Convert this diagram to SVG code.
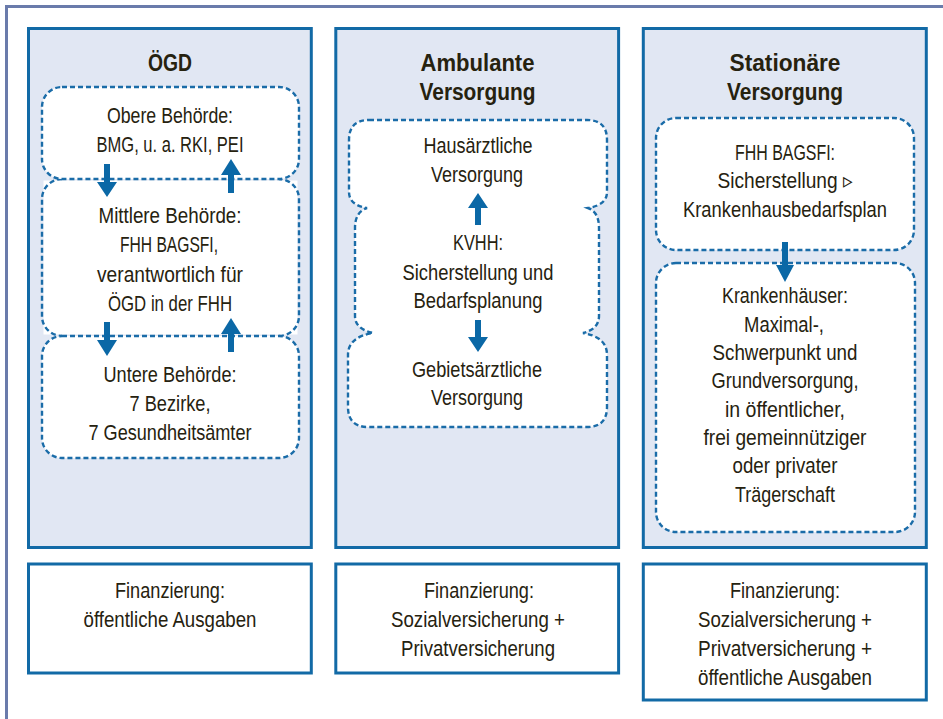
<svg xmlns="http://www.w3.org/2000/svg" width="943" height="719" viewBox="0 0 943 719">
<style>
.col{fill:#e1e7f3;stroke:#126aa6;stroke-width:3}
.fin{fill:#ffffff;stroke:#126aa6;stroke-width:3}
.dash{fill:#ffffff;stroke:#1a6ca8;stroke-width:2.4;stroke-dasharray:5 3}
.dashl{fill:none;stroke:#1a6ca8;stroke-width:2.4;stroke-dasharray:5 3}
text{font-family:"Liberation Sans",Arial,sans-serif;font-size:22px;fill:#26220f;text-anchor:middle;}
.t{font-weight:bold;font-size:23.5px}
.arr{fill:#0b68a6}
</style>
<path d="M6.5,719 V6.5 H943" fill="none" stroke="#6a7bab" stroke-width="3"/>

<g id="col-oegd">
<rect class="col" x="28.5" y="28.5" width="282.8" height="519"/>
<text class="t" x="170" y="71" textLength="44" lengthAdjust="spacingAndGlyphs">ÖGD</text>
</g>
<g id="col-ambulant">
<rect class="col" x="335.8" y="28.5" width="282.8" height="519"/>
<text class="t" x="477.5" y="71" textLength="114" lengthAdjust="spacingAndGlyphs">Ambulante</text>
<text class="t" x="477.5" y="100" textLength="116" lengthAdjust="spacingAndGlyphs">Versorgung</text>
</g>
<g id="col-stationaer">
<rect class="col" x="643.3" y="28.5" width="283" height="519"/>
<text class="t" x="785" y="71" textLength="111" lengthAdjust="spacingAndGlyphs">Stationäre</text>
<text class="t" x="785" y="100" textLength="116" lengthAdjust="spacingAndGlyphs">Versorgung</text>
</g>

<g id="mittlere">
<rect x="43.5" y="180.5" width="254" height="154" fill="#ffffff"/>
<path class="dashl" d="M62,179 A20,20 0 0 0 42,199 V316 A20,20 0 0 0 62,336 M279,336 A20,20 0 0 0 299,316 V199 A20,20 0 0 0 279,179"/>
<text x="170" y="223" textLength="143" lengthAdjust="spacingAndGlyphs">Mittlere Behörde:</text>
<text x="169" y="252" textLength="98" lengthAdjust="spacingAndGlyphs">FHH BAGSFI,</text>
<text x="170" y="282" textLength="146" lengthAdjust="spacingAndGlyphs">verantwortlich für</text>
<text x="170" y="311" textLength="124" lengthAdjust="spacingAndGlyphs">ÖGD in der FHH</text>
</g>
<g id="obere">
<rect class="dash" x="42" y="87" width="257" height="92" rx="20" ry="20"/>
<text x="170" y="123" textLength="126" lengthAdjust="spacingAndGlyphs">Obere Behörde:</text>
<text x="170" y="152" textLength="147" lengthAdjust="spacingAndGlyphs">BMG, u. a. RKI, PEI</text>
</g>
<g id="untere">
<rect class="dash" x="42" y="336" width="257" height="122" rx="20" ry="20"/>
<text x="170" y="382" textLength="133" lengthAdjust="spacingAndGlyphs">Untere Behörde:</text>
<text x="170" y="411" textLength="81" lengthAdjust="spacingAndGlyphs">7 Bezirke,</text>
<text x="170" y="440" textLength="163" lengthAdjust="spacingAndGlyphs">7 Gesundheitsämter</text>
</g>

<g id="ambulant-box">
<path class="dash" d="M369,120 H587 Q607,120 607,140 V192 Q607,205 588,208 Q599,212 599,228 V316 Q599,329 583,333 Q607,337 607,355 V407 Q607,427 587,427 H368 Q348,427 348,407 V355 Q348,337 373,333 Q355,329 355,316 V228 Q355,212 367,208 Q349,205 349,192 V140 Q349,120 369,120 Z"/>
</g>
<g id="hausaerztlich">
<text x="478" y="153" textLength="109" lengthAdjust="spacingAndGlyphs">Hausärztliche</text>
<text x="477" y="182" textLength="92" lengthAdjust="spacingAndGlyphs">Versorgung</text>
</g>
<g id="kvhh">
<text x="478" y="250" textLength="50" lengthAdjust="spacingAndGlyphs">KVHH:</text>
<text x="478" y="280" textLength="151" lengthAdjust="spacingAndGlyphs">Sicherstellung und</text>
<text x="478" y="308" textLength="129" lengthAdjust="spacingAndGlyphs">Bedarfsplanung</text>
</g>
<g id="gebietsaerztlich">
<text x="477" y="377" textLength="130" lengthAdjust="spacingAndGlyphs">Gebietsärztliche</text>
<text x="477" y="405" textLength="92" lengthAdjust="spacingAndGlyphs">Versorgung</text>
</g>

<g id="bagsfi">
<rect class="dash" x="656" y="118" width="258" height="132" rx="20" ry="20"/>
<text x="785" y="160" textLength="100" lengthAdjust="spacingAndGlyphs">FHH BAGSFI:</text>
<text x="785" y="188" textLength="135" lengthAdjust="spacingAndGlyphs">Sicherstellung ▹</text>
<text x="785" y="217" textLength="204" lengthAdjust="spacingAndGlyphs">Krankenhausbedarfsplan</text>
</g>
<g id="krankenhaeuser">
<rect class="dash" x="656" y="263" width="259" height="269" rx="20" ry="20"/>
<text x="785" y="303" textLength="126" lengthAdjust="spacingAndGlyphs">Krankenhäuser:</text>
<text x="784" y="332" textLength="80" lengthAdjust="spacingAndGlyphs">Maximal-,</text>
<text x="785" y="360" textLength="145" lengthAdjust="spacingAndGlyphs">Schwerpunkt und</text>
<text x="785" y="388" textLength="147" lengthAdjust="spacingAndGlyphs">Grundversorgung,</text>
<text x="785" y="417" textLength="120" lengthAdjust="spacingAndGlyphs">in öffentlicher,</text>
<text x="785" y="445" textLength="163" lengthAdjust="spacingAndGlyphs">frei gemeinnütziger</text>
<text x="785" y="473" textLength="105" lengthAdjust="spacingAndGlyphs">oder privater</text>
<text x="785" y="502" textLength="100" lengthAdjust="spacingAndGlyphs">Trägerschaft</text>
</g>

<g id="fin-oegd">
<rect class="fin" x="28.5" y="564" width="282.8" height="109"/>
<text x="170" y="598" textLength="110" lengthAdjust="spacingAndGlyphs">Finanzierung:</text>
<text x="170" y="627" textLength="173" lengthAdjust="spacingAndGlyphs">öffentliche Ausgaben</text>
</g>
<g id="fin-ambulant">
<rect class="fin" x="335.8" y="564" width="282.8" height="109"/>
<text x="479" y="598" textLength="110" lengthAdjust="spacingAndGlyphs">Finanzierung:</text>
<text x="478" y="627" textLength="174" lengthAdjust="spacingAndGlyphs">Sozialversicherung +</text>
<text x="478" y="656" textLength="154" lengthAdjust="spacingAndGlyphs">Privatversicherung</text>
</g>
<g id="fin-stationaer">
<rect class="fin" x="643.3" y="564" width="283" height="136"/>
<text x="785" y="598" textLength="110" lengthAdjust="spacingAndGlyphs">Finanzierung:</text>
<text x="785" y="627" textLength="174" lengthAdjust="spacingAndGlyphs">Sozialversicherung +</text>
<text x="785" y="656" textLength="174" lengthAdjust="spacingAndGlyphs">Privatversicherung +</text>
<text x="785" y="685" textLength="174" lengthAdjust="spacingAndGlyphs">öffentliche Ausgaben</text>
</g>

<g id="connectors" class="arr">
<path d="M104,164 H110 V182 H117 L107,197 L97,182 H104 Z"/>
<path d="M228,193 H234 V175 H241 L231,159 L221,175 H228 Z"/>
<path d="M104,322 H110 V340 H117 L107,356 L97,340 H104 Z"/>
<path d="M228,352 H234 V334 H241 L231,318 L221,334 H228 Z"/>
<path d="M475,225 H481 V208 H488 L478,193 L468,208 H475 Z"/>
<path d="M475,320 H481 V337 H488 L478,352 L468,337 H475 Z"/>
<path d="M782,242 H788 V265 H794 L785,282 L776,265 H782 Z"/>
</g>
</svg>
